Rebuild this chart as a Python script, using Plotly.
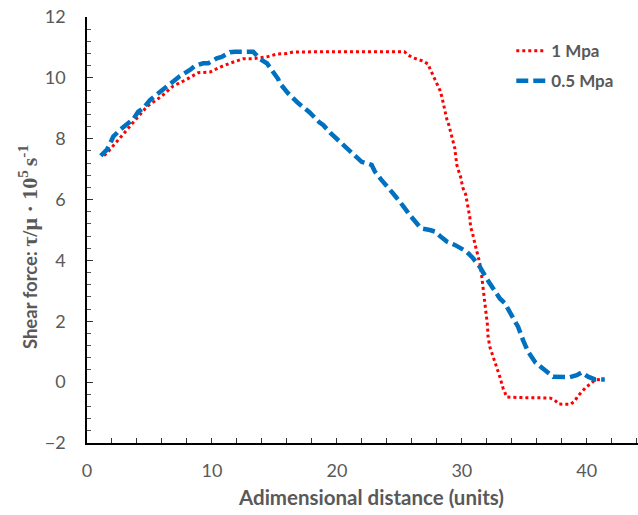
import plotly.graph_objects as go

# 1 Mpa series (red dotted)
x_1mpa = [1.36, 1.58, 2.5, 3.58, 4.78, 5.98, 6.9, 7.98, 8.9, 9.84, 10.64, 11.44, 12.5, 13.3, 14.4,
          15.18, 16.0, 16.5, 18, 20, 22, 24, 25.0, 25.4, 25.7, 26.1, 26.9, 27.3, 27.44, 27.65, 27.9,
          28.1, 28.24, 28.4, 28.64, 28.8, 28.96, 29.2, 29.44, 29.5, 29.6, 29.76, 29.9, 30.0, 30.1,
          30.3, 30.4, 30.5, 30.64, 30.7, 30.86, 31.04, 31.25, 31.44, 31.58, 31.7, 31.84, 31.98,
          32.05, 32.1, 32.24, 32.5, 32.8, 33.04, 33.3, 33.6, 35, 37.04, 37.44, 37.76, 38.7, 39.04,
          39.3, 39.65, 39.98, 40.3, 40.64, 41.2]
y_1mpa = [7.45, 7.52, 7.96, 8.47, 9.05, 9.40, 9.73, 9.95, 10.17, 10.19, 10.35, 10.48, 10.63, 10.63,
          10.69, 10.78, 10.80, 10.85, 10.86, 10.86, 10.86, 10.86, 10.86, 10.86, 10.75, 10.66, 10.55,
          10.45, 10.31, 10.12, 9.93, 9.77, 9.6, 9.38, 8.86, 8.64, 8.45, 8.07, 7.68, 7.45, 7.14, 6.92,
          6.75, 6.55, 6.37, 6.18, 5.99, 5.80, 5.42, 5.1, 4.89, 4.56, 4.23, 3.91, 3.52, 3.14, 2.70,
          2.26, 1.88, 1.49, 1.16, 0.84, 0.51, 0.18, -0.20, -0.49, -0.51, -0.52, -0.59, -0.72, -0.73,
          -0.62, -0.45, -0.31, -0.15, -0.06, 0.07, 0.09]

# 0.5 Mpa series (blue dashed)
x_05mpa = [1.1, 1.58, 1.98, 2.1, 2.64, 3.3, 3.7, 4.1, 4.5, 5.04, 5.84, 6.64, 7.44, 8.24, 8.64, 9.3,
           9.7, 10.38, 10.78, 11.44, 11.84, 13.3, 13.84, 14.4, 14.8, 15.3, 15.44, 16.1, 16.9, 17.8,
           18.6, 18.9, 19.5, 20.24, 21.0, 21.98, 22.78, 23.04, 23.58, 24.24, 24.5, 25.04, 25.3, 25.9,
           26.6, 26.9, 27.44, 27.84, 28.4, 28.8, 29.44, 30.38, 30.9, 31.44, 31.98, 32.5, 33.04, 33.44,
           33.98, 34.5, 34.9, 35.3, 35.9, 36.8, 37.3, 38.6, 39.2, 39.6, 40.1, 40.64, 41.44]
y_05mpa = [7.44, 7.63, 7.96, 8.07, 8.29, 8.53, 8.64, 8.89, 9.0, 9.27, 9.54, 9.82, 10.06, 10.26, 10.39,
           10.48, 10.48, 10.64, 10.69, 10.84, 10.86, 10.86, 10.62, 10.48, 10.26, 9.96, 9.82, 9.49, 9.17,
           8.87, 8.54, 8.45, 8.18, 7.9, 7.6, 7.24, 7.14, 6.92, 6.64, 6.29, 6.2, 5.93, 5.77, 5.46, 5.12,
           5.04, 5.0, 4.95, 4.75, 4.62, 4.51, 4.29, 4.07, 3.79, 3.41, 3.08, 2.75, 2.59, 2.21, 1.82, 1.38,
           1.0, 0.64, 0.34, 0.18, 0.16, 0.23, 0.32, 0.18, 0.09, 0.09]

x_tickvals = [0, 10, 20, 30, 40]
y_tickvals = [-2, 0, 2, 4, 6, 8, 10, 12]

x_title = "Adimensional distance (units)"
y_title = ("Shear force: <span style='font-family:Liberation Serif;font-size:22px'>"
           "τ/μ · 10<sup>5 </sup>s<sup>-1</sup></span>")

GRAY = "#595959"
FONT = "Lato, Carlito, 'Open Sans', sans-serif"

fig = go.Figure()
fig.add_trace(go.Scatter(
    x=x_1mpa, y=y_1mpa, mode="lines", name="1 Mpa", legendgroup="a",
    line=dict(color="#FF0000", width=3, dash="3px,3px"),
))
fig.add_trace(go.Scatter(
    x=x_05mpa, y=y_05mpa, mode="lines", name="0.5 Mpa", legendgroup="b",
    line=dict(color="#0070C0", width=4.5, dash="12px,5px"),
))

fig.update_layout(
    width=638, height=515,
    margin=dict(l=87, r=0, t=17, b=72),
    plot_bgcolor="white", paper_bgcolor="white",
    font=dict(family=FONT, color=GRAY, size=17),
    legend=dict(
        x=0.77, y=0.962, xanchor="left", yanchor="top",
        bgcolor="rgba(0,0,0,0)", traceorder="grouped", tracegroupgap=5,
        font=dict(family=FONT, size=17, color=GRAY, weight="bold"),
    ),
    xaxis=dict(
        range=[0, 44.1], tickvals=x_tickvals, ticks="inside", ticklen=5, tickwidth=1,
        tickcolor="#333333", showline=True, linecolor="black", linewidth=1.5,
        showgrid=False, zeroline=False, ticklabelstandoff=11, automargin=False,
        tickfont=dict(size=18, color=GRAY),
        minor=dict(dtick=2, tick0=0, ticks="inside", ticklen=5, tickcolor="#333333", showgrid=False),
    ),
    yaxis=dict(
        range=[-2, 12], tickvals=y_tickvals, ticks="inside", ticklen=6, tickwidth=1,
        tickcolor="#333333", showline=True, linecolor="black", linewidth=1.5,
        showgrid=False, zeroline=False, ticklabelstandoff=16, automargin=False,
        tickfont=dict(size=18, color=GRAY),
        minor=dict(dtick=0.4, tick0=0, ticks="inside", ticklen=4, tickcolor="#555555", showgrid=False),
    ),
    annotations=[
        dict(text=x_title, xref="paper", yref="paper", x=0.515, y=-0.127,
             xanchor="center", yanchor="middle", showarrow=False,
             font=dict(size=20.5, color=GRAY, weight="bold", family=FONT)),
        dict(text=y_title, xref="paper", yref="paper", x=-0.107, y=0.46, textangle=-90,
             xanchor="center", yanchor="middle", showarrow=False,
             font=dict(size=18.5, color=GRAY, weight="bold", family=FONT)),
    ],
)

fig.write_html("out.html", config={"displayModeBar": False},
               post_script="document.body.style.margin='0';")
